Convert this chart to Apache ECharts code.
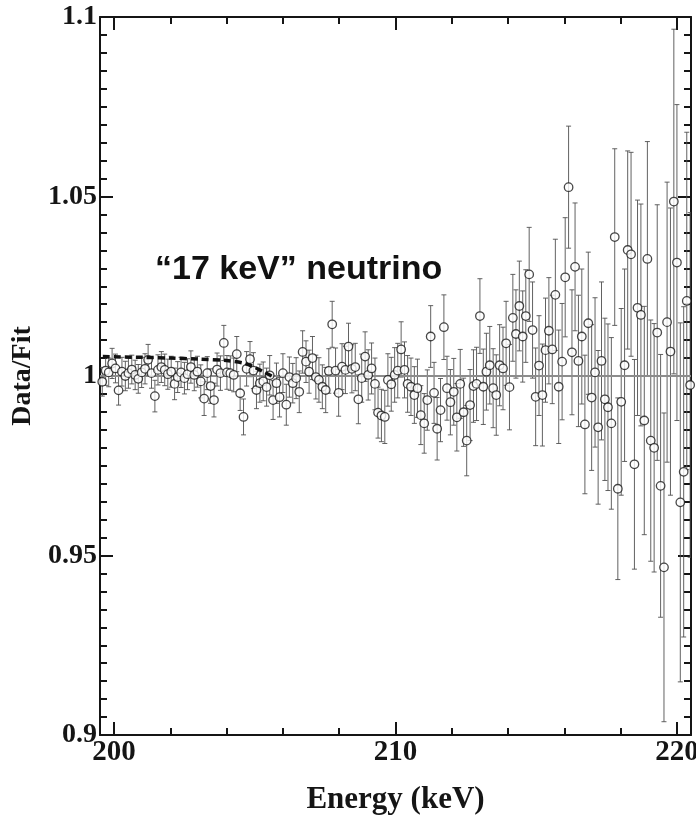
<!DOCTYPE html>
<html>
<head>
<meta charset="utf-8">
<script src="https://cdn.jsdelivr.net/npm/echarts@6/dist/echarts.min.js"></script>
<style>html,body{margin:0;padding:0;background:#fff;overflow:hidden;}#c{width:696px;height:822px;}</style>
</head>
<body>
<div id="c"></div>
<script>
// Bin energies (keV)
const energies = [
199.58,199.70,199.81,199.93,200.05,200.16,200.28,200.40,200.51,200.63,
200.75,200.86,200.98,201.10,201.21,201.33,201.45,201.56,201.68,201.80,
201.91,202.03,202.15,202.26,202.38,202.50,202.61,202.73,202.85,202.96,
203.08,203.20,203.31,203.43,203.55,203.66,203.78,203.90,204.01,204.13,
204.25,204.36,204.48,204.60,204.71,204.83,204.95,205.06,205.18,205.30,
205.42,205.53,205.65,205.77,205.88,206.00,206.12,206.23,206.35,206.47,
206.58,206.70,206.82,206.93,207.05,207.17,207.28,207.40,207.52,207.63,
207.75,207.87,207.98,208.10,208.22,208.33,208.45,208.57,208.68,208.80,
208.92,209.03,209.15,209.27,209.38,209.50,209.62,209.73,209.85,209.97,
210.08,210.20,210.32,210.43,210.55,210.67,210.78,210.90,211.02,211.13,
211.25,211.37,211.48,211.60,211.72,211.83,211.95,212.07,212.18,212.30,
212.42,212.53,212.65,212.77,212.88,213.00,213.12,213.23,213.35,213.47,
213.58,213.70,213.82,213.93,214.05,214.17,214.28,214.40,214.52,214.63,
214.75,214.87,214.98,215.10,215.22,215.33,215.45,215.57,215.68,215.80,
215.92,216.03,216.15,216.27,216.38,216.50,216.62,216.73,216.85,216.97,
217.09,217.20,217.32,217.44,217.55,217.67,217.79,217.90,218.02,218.14,
218.25,218.37,218.49,218.60,218.72,218.84,218.95,219.07,219.19,219.30,
219.42,219.54,219.65,219.77,219.89,220.00,220.12,220.24,220.35,220.47
];
// Data/Fit ratio
const ratios = [
0.9984,1.0015,1.0010,1.0035,1.0021,0.9960,1.0012,1.0000,1.0008,1.0018,
1.0003,0.9992,1.0010,1.0020,1.0045,1.0008,0.9944,1.0017,1.0025,1.0017,
1.0005,1.0012,0.9978,0.9997,1.0010,0.9994,1.0005,1.0025,1.0003,1.0012,
0.9985,0.9937,1.0008,0.9972,0.9933,1.0018,1.0008,1.0092,1.0010,1.0008,
1.0003,1.0061,0.9952,0.9886,1.0020,1.0047,1.0015,0.9961,0.9980,0.9985,
0.9969,1.0002,0.9933,0.9980,0.9941,1.0008,0.9920,0.9997,0.9980,0.9994,
0.9956,1.0067,1.0040,1.0012,1.0050,0.9997,0.9989,0.9970,0.9961,1.0014,
1.0144,1.0015,0.9953,1.0026,1.0017,1.0082,1.0020,1.0025,0.9935,0.9994,
1.0054,1.0003,1.0021,0.9978,0.9898,0.9890,0.9886,0.9989,0.9977,1.0003,
1.0015,1.0074,1.0017,0.9978,0.9970,0.9947,0.9966,0.9891,0.9868,0.9933,
1.0110,0.9953,0.9853,0.9905,1.0136,0.9966,0.9927,0.9956,0.9885,0.9978,
0.9899,0.9820,0.9919,0.9972,0.9978,1.0167,0.9970,1.0012,1.0030,0.9966,
0.9947,1.0030,1.0021,1.0091,0.9969,1.0162,1.0117,1.0195,1.0110,1.0167,
1.0283,1.0128,0.9942,1.0029,0.9947,1.0072,1.0126,1.0074,1.0226,0.9970,
1.0040,1.0275,1.0526,1.0066,1.0304,1.0042,1.0110,0.9865,1.0147,0.9940,
1.0010,0.9857,1.0042,0.9935,0.9913,0.9868,1.0387,0.9686,0.9928,1.0030,
1.0351,1.0339,0.9754,1.0190,1.0170,0.9876,1.0326,0.9820,0.9800,1.0121,
0.9694,0.9467,1.0150,1.0068,1.0486,1.0316,0.9648,0.9733,1.0209,0.9975
];
// Error bar half-lengths
const errors = [
0.0040,0.0041,0.0040,0.0042,0.0040,0.0041,0.0040,0.0041,0.0042,0.0040,0.0041,0.0040,0.0042,
0.0042,0.0043,0.0042,0.0044,0.0042,0.0043,0.0044,0.0042,0.0043,0.0044,0.0043,0.0042,0.0044,0.0043,0.0045,0.0044,0.0043,
0.0046,0.0047,0.0046,0.0048,0.0047,0.0046,0.0048,0.0049,0.0047,0.0048,0.0047,0.0049,0.0048,0.0050,0.0048,0.0049,0.0050,
0.0052,0.0053,0.0054,0.0053,0.0055,0.0054,0.0056,0.0055,0.0054,0.0057,0.0056,0.0055,0.0057,0.0058,0.0059,0.0058,0.0060,
0.0060,0.0061,0.0062,0.0061,0.0063,0.0062,0.0064,0.0063,0.0065,0.0064,0.0066,0.0065,0.0067,0.0066,0.0068,0.0067,0.0069,
0.0070,0.0071,0.0072,0.0071,0.0073,0.0074,0.0073,0.0075,0.0076,
0.0076,0.0077,0.0078,0.0079,0.0080,0.0079,0.0081,0.0082,0.0083,
0.0084,0.0086,0.0085,0.0087,0.0088,0.0090,0.0089,0.0091,
0.0093,0.0094,0.0096,0.0095,0.0098,0.0099,0.0101,0.0102,0.0104,
0.0105,0.0107,0.0108,0.0110,0.0112,0.0113,0.0115,0.0117,
0.0119,0.0121,0.0123,0.0125,0.0127,0.0129,0.0131,0.0134,0.0136,
0.0139,0.0142,0.0145,0.0148,0.0151,0.0155,0.0158,0.0162,
0.0166,0.0170,0.0174,0.0178,0.0183,0.0188,0.0193,0.0198,0.0203,
0.0208,0.0214,0.0220,0.0226,0.0232,0.0239,0.0246,0.0253,
0.0260,0.0268,0.0276,0.0284,0.0292,0.0300,0.0309,0.0318,0.0327,
0.0336,0.0346,0.0356,0.0366,
0.0430,0.0390,0.0400,0.0480,
0.0440,0.0500,0.0460,0.0470,0.0480
];
// Fit reference line (ratio = 1)
const fitX = [199.5, 220.5];
const fitY = [1, 1];
// "17 keV" neutrino expectation (dashed)
const nuX = [199.6, 201.0, 202.0, 203.0, 204.0, 204.6, 205.0, 205.3, 205.6];
const nuY = [1.0054, 1.0052, 1.0050, 1.0047, 1.0043, 1.0036, 1.0024, 1.0012, 1.0000];
// Axis ticks
const xMajorTicks = [200, 210, 220];
const xTickLabels = ['200', '210', '220'];
const xMinorTicks = [202, 204, 206, 208, 212, 214, 216, 218];
const yMajorTicks = [0.9, 0.95, 1, 1.05, 1.1];
const yTickLabels = ['0.9', '0.95', '1', '1.05', '1.1'];
const yMinorTicks = [0.905,0.91,0.915,0.92,0.925,0.93,0.935,0.94,0.945,
  0.955,0.96,0.965,0.97,0.975,0.98,0.985,0.99,0.995,
  1.005,1.01,1.015,1.02,1.025,1.03,1.035,1.04,1.045,
  1.055,1.06,1.065,1.07,1.075,1.08,1.085,1.09,1.095];

const SERIF = '"Liberation Serif", "Times New Roman", serif';
const INK = '#151515';
const X_MIN = 199.5, X_MAX = 220.5, Y_MIN = 0.9, Y_MAX = 1.1;

function lbl(list, labels) {
  return function (v) {
    for (let i = 0; i < list.length; i++) if (Math.abs(list[i] - v) < 1e-9) return labels[i];
    return '';
  };
}
function xAx(pos, ticks, len, line, labels, extra) {
  return Object.assign({
    type: 'value', min: X_MIN, max: X_MAX, position: pos,
    axisLine: { show: line, onZero: false, lineStyle: { color: INK, width: 2 } },
    axisTick: { show: true, inside: true, length: len, customValues: ticks, lineStyle: { color: INK, width: 2 } },
    axisLabel: labels ? { show: true, customValues: ticks, formatter: lbl(xMajorTicks, xTickLabels), margin: 3,
      fontFamily: SERIF, fontWeight: 'bold', fontSize: 29, color: INK, hideOverlap: false } : { show: false },
    splitLine: { show: false }
  }, extra || {});
}
function yAx(pos, ticks, len, line, labels, extra) {
  return Object.assign({
    type: 'value', min: Y_MIN, max: Y_MAX, position: pos,
    axisLine: { show: line, onZero: false, lineStyle: { color: INK, width: 2 } },
    axisTick: { show: true, inside: true, length: len, customValues: ticks, lineStyle: { color: INK, width: 2 } },
    axisLabel: labels ? { show: true, customValues: ticks, formatter: lbl(yMajorTicks, yTickLabels), margin: 3,
      fontFamily: SERIF, fontWeight: 'bold', fontSize: 28, color: INK } : { show: false },
    splitLine: { show: false }
  }, extra || {});
}

const chart = echarts.init(document.getElementById('c'), null, { renderer: 'canvas' });

const barData = energies.map((e, i) => [e, ratios[i] - errors[i], ratios[i] + errors[i]]);
const pointData = energies.map((e, i) => [e, ratios[i]]);
const fitData = fitX.map((x, i) => [x, fitY[i]]);
const nuData = nuX.map((x, i) => [x, nuY[i]]);

chart.setOption({
  animation: false,
  backgroundColor: '#ffffff',
  grid: { left: 100, right: 5, top: 17, bottom: 87, containLabel: false, outerBoundsMode: 'none' },
  xAxis: [
    xAx('bottom', xMajorTicks, 13, true, true, {
      name: 'Energy (keV)', nameLocation: 'middle', nameGap: 49,
      nameTextStyle: { fontFamily: SERIF, fontWeight: 'bold', fontSize: 31, color: INK }
    }),
    xAx('bottom', xMinorTicks, 7, false, false),
    xAx('top', xMajorTicks, 13, true, false),
    xAx('top', xMinorTicks, 7, false, false)
  ],
  yAxis: [
    yAx('left', yMajorTicks, 13, true, true, {
      name: 'Data/Fit', nameLocation: 'middle', nameGap: 48,
      nameTextStyle: { fontFamily: SERIF, fontWeight: 'bold', fontSize: 28, color: INK }
    }),
    yAx('left', yMinorTicks, 7, false, false),
    yAx('right', yMajorTicks, 13, true, false),
    yAx('right', yMinorTicks, 7, false, false)
  ],
  series: [
    {
      type: 'custom', name: 'errors', xAxisIndex: 0, yAxisIndex: 0, clip: true, z: 2,
      data: barData, encode: { x: 0, y: [1, 2] },
      renderItem: function (params, api) {
        const x = api.value(0);
        const top = api.coord([x, api.value(2)]);
        const bot = api.coord([x, api.value(1)]);
        const w = 2.5;
        const st = { stroke: '#505050', lineWidth: 0.9 };
        return {
          type: 'group', children: [
            { type: 'line', shape: { x1: top[0], y1: top[1], x2: bot[0], y2: bot[1] }, style: st },
            { type: 'line', shape: { x1: top[0] - w, y1: top[1], x2: top[0] + w, y2: top[1] }, style: st },
            { type: 'line', shape: { x1: bot[0] - w, y1: bot[1], x2: bot[0] + w, y2: bot[1] }, style: st }
          ]
        };
      }
    },
    {
      type: 'line', name: 'fit', xAxisIndex: 0, yAxisIndex: 0, data: fitData, symbol: 'none', z: 3,
      lineStyle: { color: '#8c8c8c', width: 2 }
    },
    {
      type: 'scatter', name: 'data', xAxisIndex: 0, yAxisIndex: 0, data: pointData, z: 4,
      symbol: 'circle', symbolSize: 8.5,
      itemStyle: { color: '#ffffff', borderColor: '#1a1a1a', borderWidth: 1.3 }
    },
    {
      type: 'line', name: '17 keV', xAxisIndex: 0, yAxisIndex: 0, data: nuData, symbol: 'none', z: 5,
      smooth: 0.3,
      lineStyle: { color: '#111', width: 3.5, type: [7, 4] }
    }
  ],
  graphic: [
    {
      type: 'text', x: 155, y: 270, z: 10,
      style: { text: '\u201C17 keV\u201D neutrino', font: 'bold 34px "Liberation Sans", Arial, sans-serif',
        fill: '#111', align: 'left', verticalAlign: 'middle' }
    }
  ]
});
</script>
</body>
</html>
